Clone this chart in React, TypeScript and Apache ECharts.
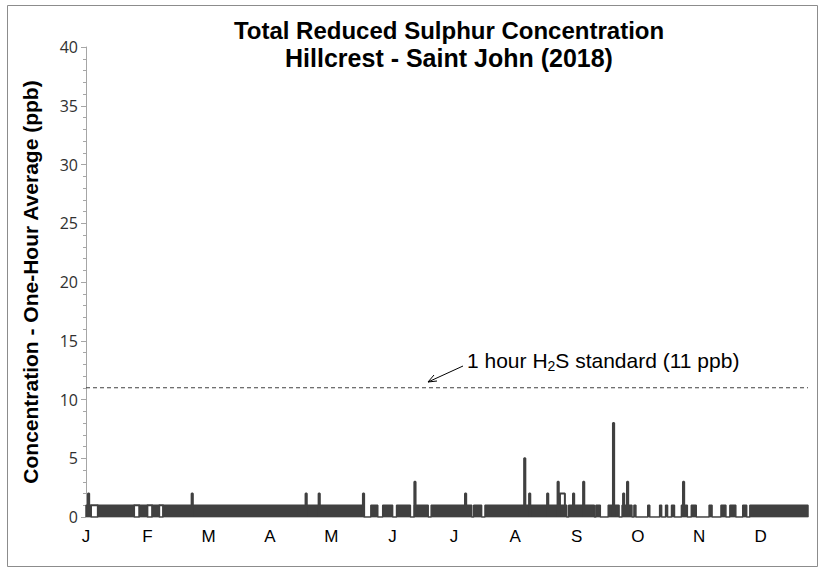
import React, { useEffect, useRef } from "react";
import * as echarts from "echarts";

// Month tick labels (one every 31 days, as in the source chart)
const monthLabels = ["J", "F", "M", "A", "M", "J", "J", "A", "S", "O", "N", "D"];
const labelEveryDays = 31;
const yearDays = 365;

// Periods (day of year) where the hourly value flickers between 0 and 1 (drawn solid)
const flickerStart = [0, 6, 27, 33.5, 39, 144, 150, 157, 166, 174.5, 196, 201.7, 244, 257.8, 264, 271, 277, 284, 290, 293, 296, 301, 306, 315, 321, 325.5, 332, 335.6];
const flickerEnd = [2.5, 24.3, 31, 37, 140.5, 147.5, 155, 164, 173, 195, 200, 243, 257, 260, 269.5, 276, 278, 285, 291, 294, 297.5, 304, 308.5, 316.5, 323.5, 328.5, 334, 365];

// Periods where the value stays steadily at 1 ppb
const steadyStart = [2.5, 24.3, 31, 37];
const steadyEnd = [6, 27, 33.5, 39];
const steadyValue = [1, 1, 1, 1];

// Short peaks (day of year start/end and value in ppb)
const peakStart = [1.0, 53.4, 111, 117.6, 140, 166, 191.6, 221.5, 224, 233.1, 238.4, 239.6, 246.2, 251.3, 266.4, 271.5, 273.5, 301.8];
const peakEnd = [1.6, 54.0, 111.6, 118.2, 140.6, 166.6, 192.2, 222.1, 224.6, 233.7, 239.0, 242.1, 246.8, 251.9, 267.0, 272.1, 274.1, 302.4];
const peakValue = [2, 2, 2, 2, 2, 3, 2, 5, 2, 2, 3, 2, 2, 3, 8, 2, 3, 3];

// 1-hour H2S standard
const standardValue = 11;

const titleLines = ["Total Reduced Sulphur Concentration", "Hillcrest - Saint John (2018)"];

const DARK = "#404040";

export default function App() {
  const ref = useRef<HTMLDivElement>(null);

  useEffect(() => {
    document.body.style.margin = "0";
    const chart = echarts.init(ref.current!, null, { renderer: "svg" });

    const flickerData: any[] = [];
    for (let i = 0; i < flickerStart.length; i++) {
      flickerData.push([flickerStart[i], 0], [flickerStart[i], 1], [flickerEnd[i], 1], [flickerEnd[i], 0]);
    }
    const steadyData: any[] = [];
    for (let i = 0; i < steadyStart.length; i++) {
      steadyData.push([steadyStart[i], 0], [steadyStart[i], steadyValue[i]], [steadyEnd[i], steadyValue[i]], [steadyEnd[i], 0], null);
    }
    const peakData: any[] = [];
    for (let i = 0; i < peakStart.length; i++) {
      peakData.push([peakStart[i], 0], [peakStart[i], peakValue[i]], [peakEnd[i], peakValue[i]], [peakEnd[i], 0], null);
    }

    const titleStyle = { fontFamily: "Liberation Sans", fontWeight: "bold", fontSize: 24, lineHeight: 26, color: "#000" };

    const option: any = {
      animation: false,
      grid: { left: 86, right: 12, top: 47, bottom: 51, containLabel: false },
      title: [
        { text: titleLines[0], left: 449, top: 17, textAlign: "center", padding: 0, textStyle: titleStyle },
        { text: titleLines[1], left: 449, top: 45, textAlign: "center", padding: 0, textStyle: { ...titleStyle, fontSize: 25 } },
      ],
      xAxis: {
        type: "value",
        min: 0,
        max: yearDays,
        interval: labelEveryDays,
        axisLine: { show: true, lineStyle: { color: "#bfbfbf", width: 1 } },
        axisTick: { show: false },
        splitLine: { show: false },
        axisLabel: {
          margin: 11,
          fontFamily: "Liberation Sans",
          fontSize: 17,
          color: "#000",
          showMaxLabel: false,
          formatter: (v: number) => {
            const idx = Math.round(v / labelEveryDays);
            return Math.abs(v - idx * labelEveryDays) < 1e-6 && idx < monthLabels.length ? monthLabels[idx] : "";
          },
        },
      },
      yAxis: {
        type: "value",
        min: 0,
        max: 40,
        interval: 5,
        name: "Concentration - One-Hour Average (ppb)",
        nameLocation: "middle",
        nameGap: 45,
        nameTextStyle: {
          fontFamily: "Liberation Sans",
          fontWeight: "bold",
          fontSize: 21,
          color: "#000",
        },
        axisLine: { show: true, lineStyle: { color: "#a6a6a6", width: 1 } },
        axisTick: { show: true, length: 5, lineStyle: { color: "#a6a6a6" } },
        minorTick: { show: true, splitNumber: 5, length: 3, lineStyle: { color: "#a6a6a6" } },
        splitLine: { show: false },
        axisLabel: {
          margin: 8,
          fontFamily: "Open Sans",
          fontSize: 16,
          color: "#303030",
        },
      },
      series: [
        {
          type: "line",
          data: flickerData,
          showSymbol: false,
          symbol: "none",
          lineStyle: { color: DARK, width: 1.5 },
          areaStyle: { color: DARK, opacity: 1 },
          z: 2,
        },
        {
          type: "line",
          data: steadyData,
          showSymbol: false,
          symbol: "none",
          connectNulls: false,
          lineStyle: { color: DARK, width: 2 },
          z: 3,
        },
        {
          type: "line",
          data: peakData,
          showSymbol: false,
          symbol: "none",
          connectNulls: false,
          lineStyle: { color: DARK, width: 2 },
          z: 4,
        },
        {
          type: "line",
          data: [[0, standardValue], [yearDays, standardValue]],
          showSymbol: false,
          symbol: "none",
          lineStyle: { color: "#404040", width: 1, type: [4, 3] },
          z: 1,
        },
      ],
      graphic: [
        {
          type: "rect",
          shape: { x: 7.5, y: 5.5, width: 810, height: 561 },
          style: { fill: "none", stroke: "#8c8c8c", lineWidth: 1 },
          silent: true,
        },
        {
          type: "text",
          x: 467,
          y: 348,
          style: {
            text: "{a|1 hour H}{s|2}{a|S standard (11 ppb)}",
            rich: {
              a: { fontFamily: "Liberation Sans", fontSize: 21, fill: "#000" },
              s: { fontFamily: "Liberation Sans", fontSize: 14, fill: "#000", padding: [11, 0, 0, 0] },
            },
          },
        },
        {
          type: "line",
          shape: { x1: 463, y1: 366, x2: 428, y2: 382 },
          style: { stroke: "#000", lineWidth: 1 },
        },
        {
          type: "polyline",
          shape: { points: [[434, 375], [428, 382], [437, 381]] },
          style: { stroke: "#000", lineWidth: 1, fill: "none" },
        },
      ],
    };

    chart.setOption(option);
    return () => chart.dispose();
  }, []);

  return <div ref={ref} style={{ width: 820, height: 568 }} />;
}
